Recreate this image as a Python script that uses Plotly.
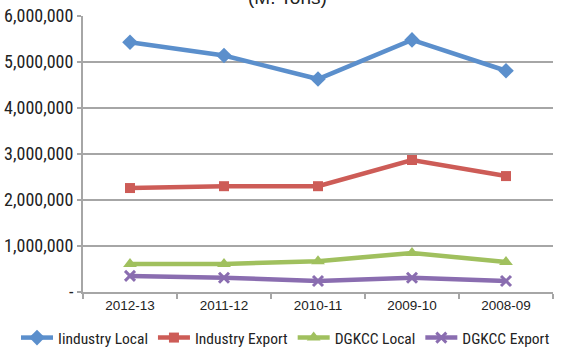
import plotly.graph_objects as go

years = ["2012-13", "2011-12", "2010-11", "2009-10", "2008-09"]
industry_local = [5430000, 5140000, 4630000, 5480000, 4810000]
industry_export = [2260000, 2300000, 2300000, 2870000, 2520000]
dgkcc_local = [610000, 610000, 670000, 850000, 650000]
dgkcc_export = [350000, 310000, 240000, 310000, 240000]
y_ticks = [0, 1000000, 2000000, 3000000, 4000000, 5000000, 6000000]
y_tick_labels = ["-", "1,000,000", "2,000,000", "3,000,000", "4,000,000", "5,000,000", "6,000,000"]

NARROW = "Roboto Condensed, Liberation Sans, Arial, sans-serif"
REG = "Liberation Sans, Arial, sans-serif"

series = [
    ("Iindustry Local", industry_local, "#5B8FCC", "diamond", 12),
    ("Industry Export", industry_export, "#CD5C57", "square", 10),
    ("DGKCC Local", dgkcc_local, "#A0C05E", "triangle-up", 12),
    ("DGKCC Export", dgkcc_export, "#8A6DB0", "x-thin", 10),
]

fig = go.Figure()
for name, vals, color, sym, size in series:
    marker = dict(symbol=sym, size=size, color=color, line=dict(color=color, width=3 if sym == "x-thin" else 0))
    fig.add_trace(go.Scatter(
        x=years, y=vals, name=name, mode="lines+markers",
        line=dict(color=color, width=4.5), marker=marker,
    ))

fig.update_layout(
    width=574, height=349,
    margin=dict(l=83, r=21, t=16, b=57, autoexpand=False),
    plot_bgcolor="white", paper_bgcolor="white",
    showlegend=True,
    legend=dict(orientation="h", x=(16 - 83) / 470, xanchor="left",
                y=-46 / 276, yanchor="middle", itemwidth=32,
                font=dict(family=NARROW, size=15.5, color="#222222"),
                tracegroupgap=0, bgcolor="rgba(0,0,0,0)"),
    annotations=[dict(text="(M. Tons)", xref="paper", yref="paper",
                      x=(287 - 83) / 470, y=1 + 18 / 276, xanchor="center", yanchor="middle",
                      showarrow=False, font=dict(family=REG, size=19, color="#222222"))],
)
fig.update_xaxes(
    type="category", range=[-0.5, 4.5], showgrid=False, showline=True, linecolor="#A6A6A6", linewidth=2,
    ticks="outside", tickson="boundaries", ticklen=5, tickcolor="#A6A6A6", tickwidth=2,
    tickfont=dict(family=REG, size=13.5, color="#222222"),
)
fig.update_yaxes(
    range=[0, 6000000], tickvals=y_ticks, ticktext=y_tick_labels,
    showgrid=True, gridcolor="#A6A6A6", gridwidth=2,
    showline=True, linecolor="#A6A6A6", linewidth=2,
    ticks="outside", ticklen=4, tickcolor="#A6A6A6", tickwidth=2,
    tickfont=dict(family=NARROW, size=18, color="#222222"), zeroline=False,
)

fig.write_html("out.html")
